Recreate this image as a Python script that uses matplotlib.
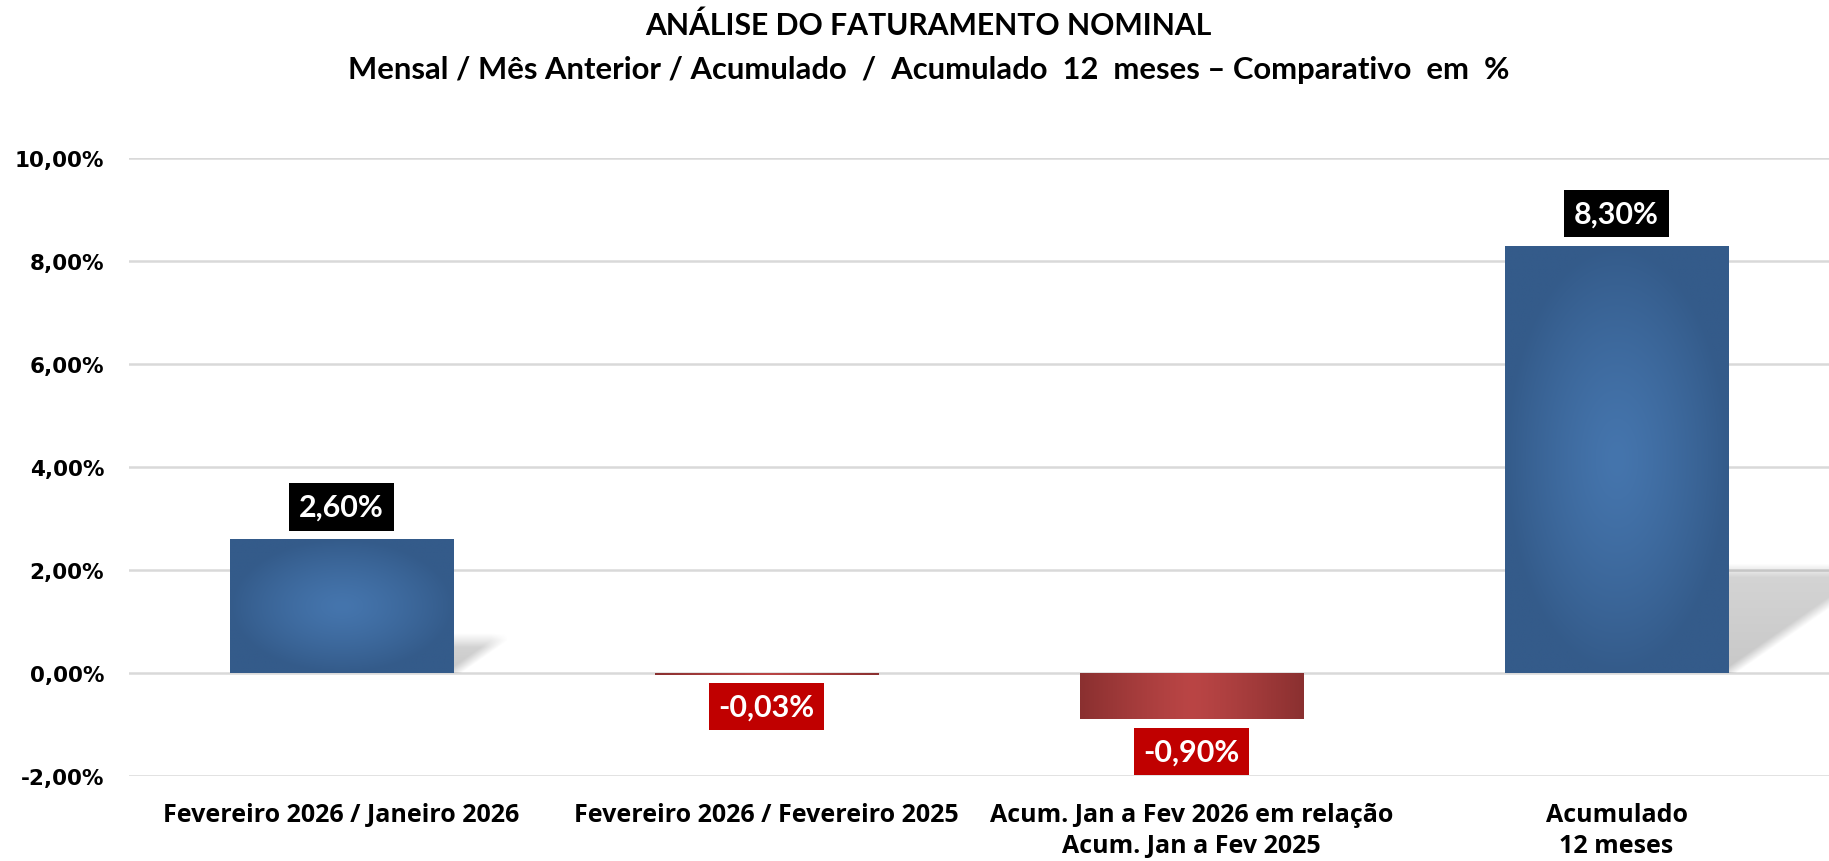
import numpy as np
import matplotlib
matplotlib.use('Agg')
import matplotlib.pyplot as plt
from matplotlib.colors import to_rgb

# Dados do grafico
categorias = ['Fevereiro 2026 / Janeiro 2026',
              'Fevereiro 2026 / Fevereiro 2025',
              'Acum. Jan a Fev 2026 em relação\nAcum. Jan a Fev 2025',
              'Acumulado\n12 meses']
valores = [2.60, -0.03, -0.90, 8.30]
rotulos = ['2,60%', '-0,03%', '-0,90%', '8,30%']
yticks = [-2, 0, 2, 4, 6, 8, 10]
ytick_labels = ['-2,00%', '0,00%', '2,00%', '4,00%', '6,00%', '8,00%', '10,00%']

titulo = 'ANÁLISE DO FATURAMENTO NOMINAL'
subtitulo = 'Mensal / Mês Anterior / Acumulado  /  Acumulado  12  meses – Comparativo  em  %'

AZUL_CENTRO, AZUL_BORDA = '#4575AD', '#345B8A'
VERM_CENTRO, VERM_BORDA = '#BA4545', '#8A3030'

W, H = 1829, 862
fig = plt.figure(figsize=(W / 100, H / 100), dpi=100)
ax = fig.add_axes([129 / W, 85 / H, 1700 / W, 618 / H])

x = np.arange(len(valores))
bars = ax.bar(x, valores, width=0.525, color='none', zorder=3)

ax.set_xlim(-0.5, 3.5)
ax.set_ylim(-2, 10)


def gradiente(bar, centro, borda, radial=True):
    x0, w = bar.get_x(), bar.get_width()
    y0 = min(bar.get_y(), bar.get_y() + bar.get_height())
    y1 = max(bar.get_y(), bar.get_y() + bar.get_height())
    U, V = np.meshgrid(np.linspace(-1, 1, 200), np.linspace(-1, 1, 200))
    if radial:
        r = np.clip(np.sqrt(U ** 2 + V ** 2), 0, 1) ** 1.3
    else:
        r = np.abs(U) ** 1.2
    c0, c1 = np.array(to_rgb(centro)), np.array(to_rgb(borda))
    img = c0 + (c1 - c0) * r[..., None]
    im = ax.imshow(img, extent=[x0, x0 + w, y0, y1], origin='lower',
                   aspect='auto', interpolation='bilinear', zorder=3)
    im.set_clip_path(bar)


def sombra(bar, dx=0.042, dy=0.24, blur=7):
    # sombra projetada para tras/direita das barras positivas
    h = bar.get_height()
    x1 = bar.get_x() + bar.get_width()
    hs, d = h * dy, h * dx
    p0 = ax.transData.transform((0, 0))
    ppx = ax.transData.transform((1, 0))[0] - p0[0]
    ppy = ax.transData.transform((0, 1))[1] - p0[1]
    mx, my = blur / ppx, blur / ppy
    xs = np.linspace(x1, x1 + d + mx, 300)
    ys = np.linspace(0, hs + my, 200)
    X, Y = np.meshgrid(xs, ys)
    t = np.clip(Y / hs, 0, 1)
    dist_diag = (x1 + t * d - X) * ppx * 0.8
    dist_top = (hs - Y) * ppy
    a = np.clip(0.5 + dist_diag / (2 * blur), 0, 1) * np.clip(0.5 + dist_top / (2 * blur), 0, 1)
    a = a * (0.22 - 0.05 * t)
    img = np.zeros(X.shape + (4,))
    img[..., 3] = a
    ax.imshow(img, extent=[x1, x1 + d + mx, 0, hs + my], origin='lower',
              aspect='auto', interpolation='bilinear', zorder=2)


for bar, v in zip(bars, valores):
    if v >= 0:
        sombra(bar)
        gradiente(bar, AZUL_CENTRO, AZUL_BORDA, radial=True)
    else:
        gradiente(bar, VERM_CENTRO, VERM_BORDA, radial=False)

ax.set_xlim(-0.5, 3.5)
ax.set_ylim(-2, 10)

# Rotulos de valor
for bar, v, txt in zip(bars, valores, rotulos):
    xc = bar.get_x() + bar.get_width() / 2
    cor = 'black' if v >= 0 else '#C00000'
    off = 13 if v >= 0 else -13
    ax.annotate(txt, (xc, v), xytext=(0, off), textcoords='offset points',
                ha='center', va='bottom' if v >= 0 else 'top', color='white',
                fontsize=22, fontweight='bold', family='Lato', zorder=5,
                bbox=dict(boxstyle='square,pad=0.32', fc=cor, ec='none'))

ax.set_yticks(yticks)
ax.set_yticklabels(ytick_labels, fontsize=15.5, fontweight='bold', family='DejaVu Sans')
ax.set_xticks(x)
ax.set_xticklabels(categorias, fontsize=18, fontweight='bold', family='Open Sans',
                   linespacing=1.3)
ax.tick_params(axis='y', length=0, pad=18)
ax.tick_params(axis='x', length=0, pad=19)

ax.yaxis.grid(True, color='#D9D9D9', lw=1.8, zorder=0)
ax.set_axisbelow(True)
for s in ax.spines.values():
    s.set_visible(False)

fig.text(0.5077, 1 - 26 / H, titulo, ha='center', va='center', fontsize=21.7,
         fontweight='bold', family='Lato')
fig.text(0.5077, 1 - 70 / H, subtitulo, ha='center', va='center', fontsize=22.3,
         fontweight='bold', family='Lato')

fig.savefig('out.png', dpi=100, facecolor='white')
